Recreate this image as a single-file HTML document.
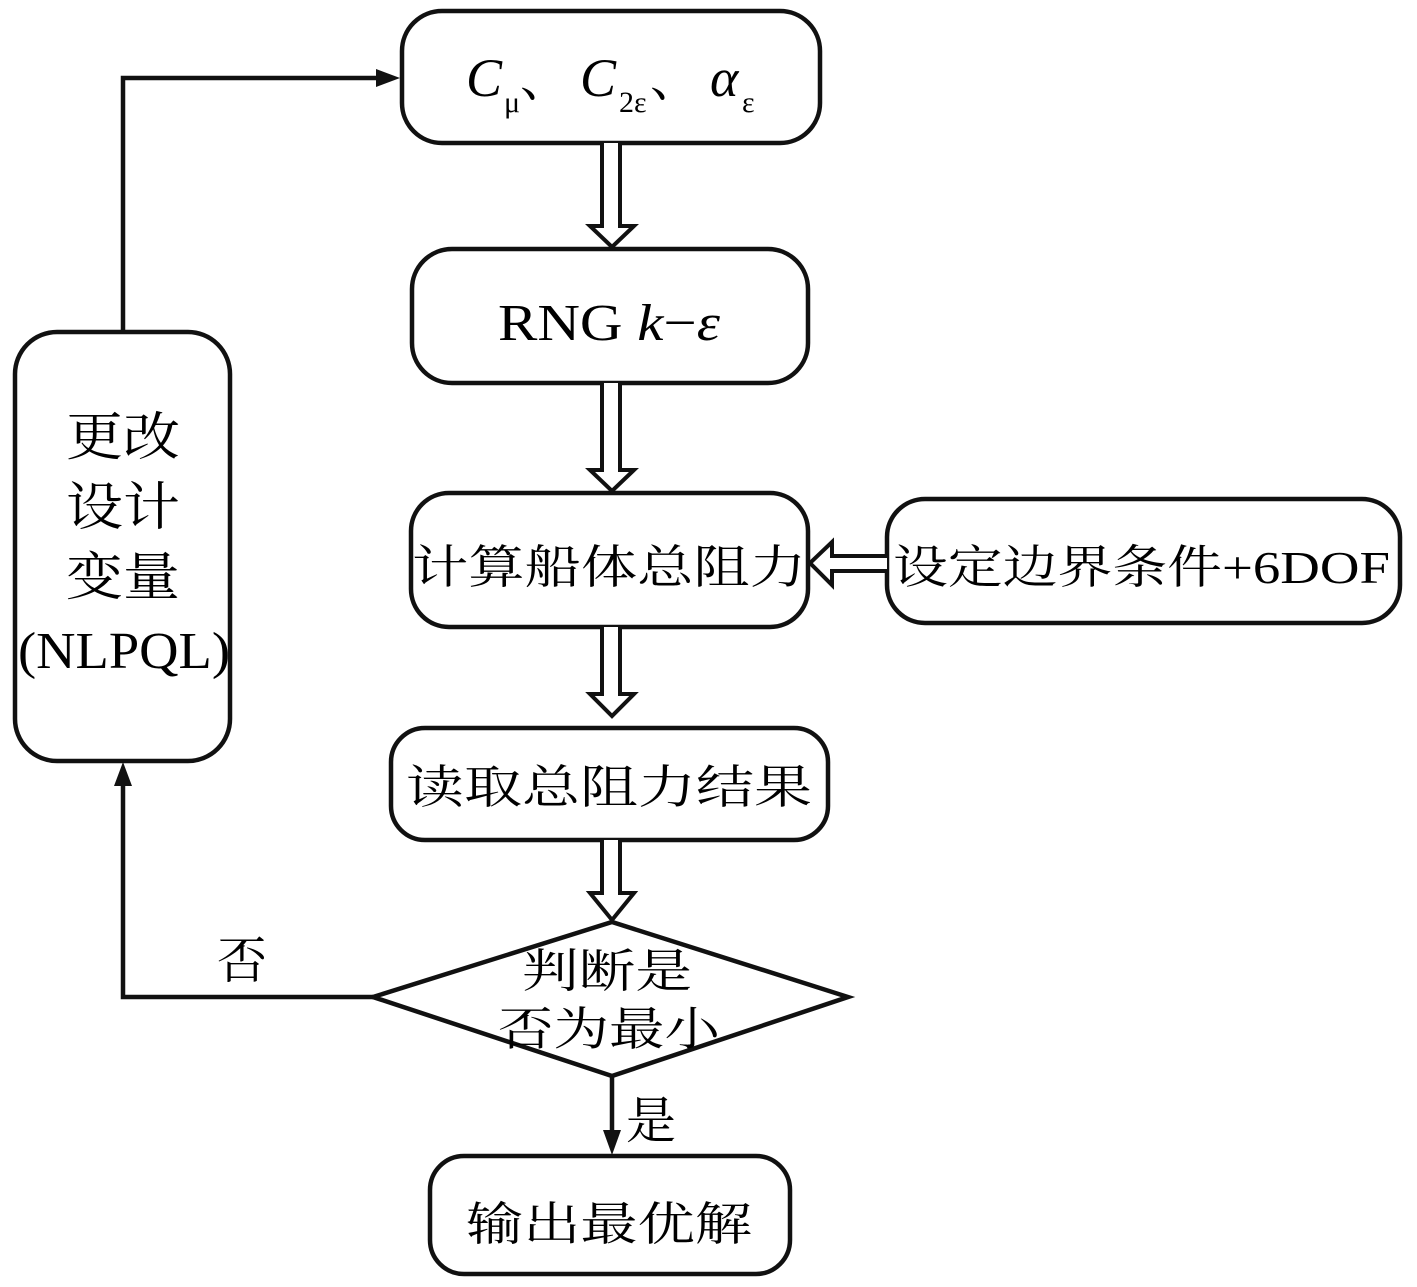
<!DOCTYPE html>
<html><head><meta charset="utf-8"><style>
html,body{margin:0;padding:0;background:#fff;}
svg{display:block;}
text{font-family:"Liberation Serif","Noto Serif CJK SC",serif;fill:#000;}
</style></head><body>
<svg width="1417" height="1287" viewBox="0 0 1417 1287" xmlns="http://www.w3.org/2000/svg">
<g fill="none" stroke="#111" stroke-width="4.5">
<rect x="402" y="11" width="418" height="132" rx="40"/>
<rect x="412" y="249" width="396" height="134" rx="40"/>
<rect x="411" y="493" width="397" height="134" rx="38"/>
<rect x="887" y="499" width="513" height="124" rx="38"/>
<rect x="391" y="728" width="437" height="112" rx="34"/>
<rect x="430" y="1156" width="360" height="118" rx="34"/>
<rect x="15" y="332" width="215" height="429" rx="42"/>
<polygon points="373,997 612,922 848,997 612,1076"/>
</g>
<g fill="#fff" stroke="#111" stroke-width="4">
<path d="M602,143 V226 H590 L612,247 L634,226 H620 V143"/>
<path d="M602,383 V470 H590 L612,491 L634,470 H620 V383"/>
<path d="M602,627 V694 H590 L612,716 L634,694 H620 V627"/>
<path d="M602,840 V893 H590 L612,920 L634,893 H620 V840"/>
<path d="M887,556 H832 V542 L810,563 L832,585 V571 H887"/>
</g>
<g fill="none" stroke="#111" stroke-width="4.5">
<polyline points="373,997 123,997 123,780"/>
<polyline points="123,332 123,78 378,78"/>
<line x1="612" y1="1076" x2="612" y2="1135"/>
</g>
<g fill="#111">
<polygon points="123,762 114,786 132,786"/>
<polygon points="400,78 376,69 376,87"/>
<polygon points="612,1155 603,1130 621,1130"/>
</g>
<g font-size="46">
<text x="466" y="96" font-style="italic" font-size="54">C</text><text x="504" y="112" font-size="30">μ</text><text x="520" y="96" font-size="50">、</text>
<text x="580" y="96" font-style="italic" font-size="54">C</text><text x="619" y="112" font-size="30">2ε</text><text x="650" y="96" font-size="50">、</text>
<text x="710" y="96" font-style="italic" font-size="54">α</text><text x="742" y="112" font-size="30">ε</text>
<text x="498" y="340" font-size="52" textLength="222" lengthAdjust="spacingAndGlyphs">RNG <tspan font-style="italic">k</tspan>−<tspan font-style="italic">ε</tspan></text>
<text x="412" y="583" textLength="394" lengthAdjust="spacingAndGlyphs">计算船体总阻力</text>
<text x="893" y="583" textLength="497" lengthAdjust="spacingAndGlyphs">设定边界条件+6DOF</text>
<text x="406" y="803" textLength="406" lengthAdjust="spacingAndGlyphs">读取总阻力结果</text>
<text x="466" y="1240" textLength="286" lengthAdjust="spacingAndGlyphs">输出最优解</text>
<text x="522" y="987" textLength="170" lengthAdjust="spacingAndGlyphs">判断是</text>
<text x="498" y="1045" textLength="222" lengthAdjust="spacingAndGlyphs">否为最小</text>
<text x="217" y="978" font-size="50">否</text>
<text x="626" y="1138" font-size="50">是</text>
<g font-size="52">
<text x="66" y="455" textLength="114" lengthAdjust="spacingAndGlyphs">更改</text>
<text x="66" y="525" textLength="114" lengthAdjust="spacingAndGlyphs">设计</text>
<text x="66" y="595" textLength="114" lengthAdjust="spacingAndGlyphs">变量</text>
<text x="18" y="668" textLength="212" lengthAdjust="spacingAndGlyphs">(NLPQL)</text>
</g>
</g>
</svg>
</body></html>
